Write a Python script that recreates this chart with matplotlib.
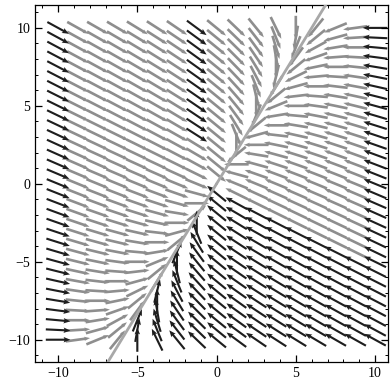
import numpy as np
import matplotlib
matplotlib.use("Agg")
import matplotlib.pyplot as plt
from matplotlib.ticker import MultipleLocator

# ---- data ----
field_matrix = [[-6.0, 3.0], [2.5, -2.5]]   # x' = A x  (stable node)
eigen_slope = 5.0 / 3.0                      # slow eigen-direction y = (5/3) x
grid_x = np.linspace(-10, 10, 17)            # arrow columns
grid_y = np.linspace(-10, 10, 33)            # arrow rows
x_ticks = [-10, -5, 0, 5, 10]
y_ticks = [-10, -5, 0, 5, 10]

# ---- figure ----
fig = plt.figure(figsize=(3.9, 3.83), dpi=100)
ax = fig.add_axes([0.09, 0.054, 0.905, 0.933])
ax.set_xlim(-11.45, 10.82)
ax.set_ylim(-11.45, 11.47)

A = np.array(field_matrix)
X, Y = np.meshgrid(grid_x, grid_y)
U = A[0, 0] * X + A[0, 1] * Y
V = A[1, 0] * X + A[1, 1] * Y
N = np.hypot(U, V)
N[N == 0] = np.inf
L = 1.55
U = U / N * L
V = V / N * L

# colour groups (print shading)
dark = (np.abs(X) >= 9.9) | ((Y < eigen_slope * X) & (Y < -0.5 * X - 0.6)) \
       | ((np.abs(X + 1.25) < 0.1) & (Y > 2.5))
gray = ~dark

common = dict(angles="xy", scale_units="xy", scale=1, pivot="middle")
ax.quiver(X[gray], Y[gray], U[gray], V[gray], color="#8e8e8e",
          width=0.0075, headwidth=1.6, headlength=2.2, headaxislength=2.0,
          **common)
ax.quiver(X[dark], Y[dark], U[dark], V[dark], color="#1e1e1e",
          width=0.006, headwidth=2.6, headlength=3.2, headaxislength=2.8,
          **common)

# eigen line
ys = np.array([-11.45, 11.47])
ax.plot(ys / eigen_slope, ys, color="#a8a8a8", lw=2.0, zorder=3)

# ---- axes styling ----
ax.set_xticks(x_ticks)
ax.set_yticks(y_ticks)
ax.xaxis.set_minor_locator(MultipleLocator(1))
ax.yaxis.set_minor_locator(MultipleLocator(1))
ax.tick_params(which="both", direction="in", top=True, right=True)
ax.tick_params(which="major", length=5, width=0.9)
ax.tick_params(which="minor", length=2.5, width=0.7)
for lab in ax.get_xticklabels() + ax.get_yticklabels():
    lab.set_family("Liberation Serif")
    lab.set_fontsize(10)
for s in ax.spines.values():
    s.set_linewidth(0.9)

fig.savefig("out.png", dpi=100, facecolor="white")
